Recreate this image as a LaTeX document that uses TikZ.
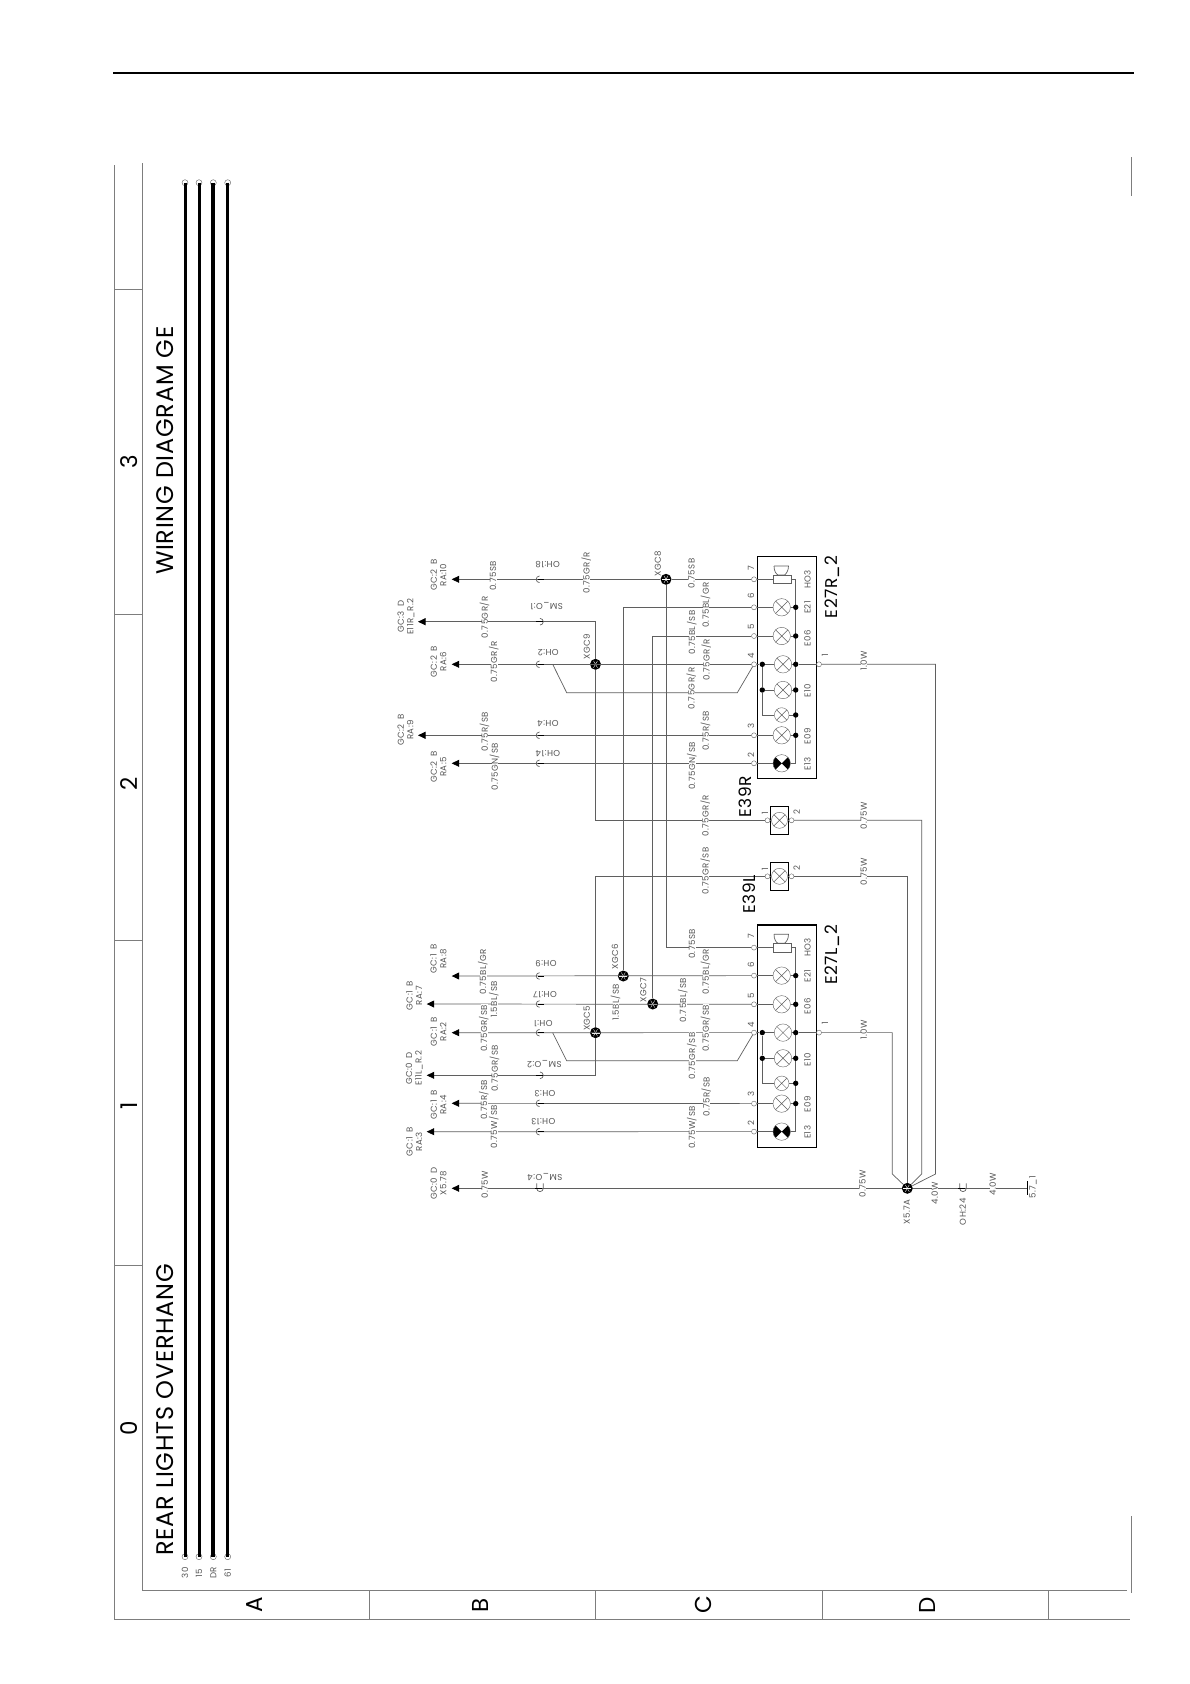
\documentclass[tikz,border=0pt]{standalone}
\usepackage{fontspec}
\usepackage{xcolor}
\setmainfont{Poppins}
\newfontfamily\wirefont[LetterSpace=5,WordSpace=1.6]{Poppins}
\newfontfamily\titlefont[LetterSpace=3]{Poppins}
\usetikzlibrary{arrows.meta}
\definecolor{wiregray}{RGB}{95, 95, 95}
\definecolor{framegray}{RGB}{125, 125, 125}
\definecolor{textgray}{RGB}{85, 85, 85}
\tikzset{
  wire/.style={draw=wiregray, line width=0.7pt},
  tipped/.style={-{Triangle[length=7.5pt,width=7pt,color=black]}},
  busbar/.style={draw=black, line width=#1},
  framerule/.style={draw=framegray, line width=0.9pt},
  wirelabel/.style={rotate=90, fill=white, inner xsep=1pt, inner ysep=0pt, text height=6.2pt, text depth=0.4pt, text=textgray, font=\wirefont\fontsize{8.6}{9}\selectfont},
  smalllabel/.style={rotate=90, inner sep=0pt, text=textgray, font=\wirefont\fontsize{8.6}{9.6}\selectfont, align=center},
  marklabel/.style={rotate=180, inner sep=0pt, text=textgray, font=\wirefont\fontsize{8.6}{9}\selectfont},
  biglabel/.style={rotate=90, inner sep=0pt, font=\titlefont\fontsize{17}{18}\selectfont},
  titlelabel/.style={rotate=90, inner sep=0pt, anchor=west, font=\titlefont\fontsize{24}{25}\selectfont},
  pinmark/.style={circle, draw=wiregray, fill=white, minimum size=5pt, inner sep=0pt},
  dotmark/.style={circle, fill=black, minimum size=5.4pt, inner sep=0pt},
  splice/.style={circle, fill=black, minimum size=11pt, inner sep=0pt, path picture={
    \foreach \a in {0,60,120} \draw[white, line width=0.35pt] (path picture bounding box.center) ++(\a:4pt) -- ++(\a+180:8pt);}},
  lamp/.style={circle, draw=wiregray, fill=white, minimum size=#1, inner sep=0pt, path picture={
    \draw[wiregray, line width=0.5pt] (path picture bounding box.south west) -- (path picture bounding box.north east)
      (path picture bounding box.north west) -- (path picture bounding box.south east);}},
  lamp/.default=17.4pt,
  lampblack/.style={lamp, path picture={
    \fill[black] (path picture bounding box.center) -- +(135:15pt) -- +(225:15pt) -- cycle
      (path picture bounding box.center) -- +(45:15pt) -- +(-45:15pt) -- cycle;}},
  ohmark/.pic={\draw[wire] (0pt,3.3pt) arc[start angle=90, end angle=270, radius=3.3pt];
    \draw[black, line width=1pt] (-2pt,0pt) -- (4.5pt,0pt);},
  smmark/.pic={\draw[wire] (0pt,3.3pt) arc[start angle=90, end angle=-90, radius=3.3pt];
    \draw[black, line width=1pt] (-4pt,0pt) -- (3pt,0pt);},
  umark/.pic={\draw[wire] (-3.3pt,5pt) -- (-3.3pt,0pt) arc[start angle=180, end angle=360, radius=3.3pt] -- (3.3pt,5pt);
    \draw[black, line width=1pt] (-5pt,0pt) -- (1.5pt,0pt);},
}
% lamp box, drawn at the height of the right one and moved by #2
\newcommand{\rearbox}[2]{
\begin{scope}[shift={(0,#2)}, name prefix=#1-]
\draw[black, line width=1.2pt] (757.3,556.7) rectangle (816.7,778.8);
\foreach \n/\y in {7/579.3, 6/607.3, 5/636, 4/664.3, 3/735.3, 2/763.3}
  \node[pinmark] (p\n) at (754,\y) {};
\node[pinmark] (p1) at (819,664.3) {};
\foreach \n/\y in {7/568, 6/596, 5/627, 4/656, 3/726, 2/755}
  \node[smalllabel] (n\n) at (751,\y) {\n};
\node[smalllabel] (n1) at (825,655) {1};
\node[draw=wiregray, fill=white, minimum width=17.4pt, minimum height=8.7pt, inner sep=0pt] (hornbase) at (782,579.3) {};
\draw[wire] (774,566) -- (788.5,566) .. controls (788.5,571) and (786,574) .. (784.5,575) -- (778,575) .. controls (776,574) and (774,571) .. (774,566);
\foreach \n/\x/\y in {e21/781.7/607.3, e06/781.7/636, e4/783/664.3, e10/783/690, e09/781.7/735.3}
  \node[lamp] (\n) at (\x,\y) {};
\node[lamp=14.6pt] (e08) at (781.7,715) {};
\node[lampblack] (e13) at (781.7,763.3) {};
\coordinate (bustop) at (795.7,579.3);
\coordinate (busend) at (795.7,763.3);
\draw[wire] (p7) -- (hornbase);
\draw[wire] (hornbase) -- (bustop) -- (busend) -- (e13) -- (p2);
\foreach \n/\y in {e21/607.3, e06/636, e4/664.3, e10/690, e08/715, e09/735.3} {
  \node[dotmark] (b\n) at (795.7,\y) {};
  \draw[wire] (\n) -- (b\n);
}
\node[dotmark] (la) at (762.3,664.3) {};
\node[dotmark] (lb) at (762.3,690) {};
\draw[wire] (p6) -- (e21);
\draw[wire] (p5) -- (e06);
\draw[wire] (p4) -- (la) -- (e4);
\draw[wire] (be4) -- (p1);
\draw[wire] (la) -- (lb) -- (e10);
\draw[wire] (lb) |- (e08);
\draw[wire] (p3) -- (e09);
\foreach \t/\y in {HO3/579.3, E21/607.5, E06/638, E10/691, E09/736, E13/764}
  \node[smalllabel] (t\t) at (807.5,\y) {\t};
\end{scope}
}
% small side lamp
\newcommand{\sidelamp}[2]{
\begin{scope}[shift={(0,#2)}, name prefix=#1-]
\draw[black, line width=1pt] (770.7,806) rectangle (788.3,834.4);
\node[lamp=16pt] (lamp) at (779.5,820.3) {};
\node[pinmark] (p1) at (767.5,820.3) {};
\node[pinmark] (p2) at (791.5,820.3) {};
\node[smalllabel] (n1) at (765,813) {1};
\node[smalllabel] (n2) at (796.7,812) {2};
\end{scope}
}
\begin{document}
\begin{tikzpicture}[x=1pt, y=-1pt]
\useasboundingbox (0,0) rectangle (1190,1684);
\fill[white] (0,0) rectangle (1190,1684);
% sheet frame
\draw[black, line width=2pt] (113,73) -- (1134,73);
\draw[framerule] (114.5,165) -- (114.5,1619) -- (1130,1619);
\draw[framerule] (142.5,163) -- (142.5,1590) -- (1127,1590);
\draw[framerule] (1131,157) -- (1131,196);
\draw[framerule] (1131,1516) -- (1131,1593);
\foreach \y in {289.5,614,940,1265}
  \draw[framerule] (114.5,\y) -- (142.5,\y);
\foreach \x in {369.5,595,822.7,1048}
  \draw[framerule] (\x,1590) -- (\x,1619);
\foreach \t/\y [count=\i] in {3/462, 2/784, 1/1106, 0/1428}
  \node[rotate=90, inner sep=0pt, font=\fontsize{23}{25}\selectfont] (col\i) at (129,\y) {\t};
\foreach \t/\x [count=\i] in {A/255, B/480, C/703, D/927}
  \node[rotate=90, inner sep=0pt, font=\fontsize{23}{25}\selectfont] (row\i) at (\x,1605) {\t};
\node[titlelabel] (titlea) at (165.5,1556) {REAR LIGHTS OVERHANG};
\node[titlelabel] (titleb) at (165.5,575) {WIRING DIAGRAM GE};
% supply bars
\foreach \t/\x/\w [count=\i] in {30/185/3pt, 15/199/3pt, DR/213.3/3.8pt, 61/227.7/3pt} {
  \node[pinmark, minimum size=6pt] (bartop\i) at (\x,182.7) {};
  \node[pinmark, minimum size=6pt] (barend\i) at (\x,1556.7) {};
  \draw[busbar=\w] (bartop\i.center) -- (barend\i.center);
  \node[smalllabel] (bartext\i) at (\x,1573) {\t};
}
% lamp boxes
\rearbox{R}{0}
\rearbox{L}{368.3}
\sidelamp{SR}{0}
\sidelamp{SL}{56}
% splices
\node[splice] (XGC8) at (666,579.3) {};
\node[splice] (XGC9) at (595.5,664.3) {};
\node[splice] (XGC6) at (623.3,976) {};
\node[splice] (XGC7) at (652.7,1004) {};
\node[splice] (XGC5) at (595.5,1032.7) {};
\node[splice] (X57A) at (907.3,1188.3) {};
% free ends
\foreach \n/\x/\y in {ta/451.7/579.3, tb/418/621.7, tc/451.7/664.3, td/418/735.3, te/451.7/763.3,
    tf/451.7/976, tg/426.7/1004, th/451.7/1032.7, ti/426.7/1075.3, tj/451.7/1103.3, tk/426.7/1131.7, tl/451.7/1188.3,
    bra/892.3/1174, brb/921.7/1174, brc/935.5/1174, gnd/1027/1188.3,
    hka/552.7/664.3, hkb/566.7/692.7, hkc/737.3/692.7, hkd/552.7/1032.7, hke/566.7/1060.7, hkf/737.3/1060.7}
  \coordinate (\n) at (\x,\y);
% wires
\draw[wire] (R-p7) -- (XGC8);
\draw[wire, tipped] (XGC8) -- (ta);
\draw[wire] (XGC8) |- (L-p7);
\draw[wire, tipped] (XGC9) |- (tb);
\draw[wire, tipped] (R-p4) -- (tc);
\draw[wire] (XGC9) |- (SR-p1);
\draw[wire] (R-p6) -| (XGC6);
\draw[wire] (R-p5) -| (XGC7);
\draw[wire, tipped] (R-p3) -- (td);
\draw[wire, tipped] (R-p2) -- (te);
\draw[wire] (hka) -- (hkb) -- (hkc) -- (R-p4);
\draw[wire, tipped] (L-p6) -- (tf);
\draw[wire, tipped] (L-p5) -- (tg);
\draw[wire, tipped] (L-p4) -- (th);
\draw[wire, tipped] (XGC5) |- (ti);
\draw[wire] (XGC5) |- (SL-p1);
\draw[wire, tipped] (L-p3) -- (tj);
\draw[wire, tipped] (L-p2) -- (tk);
\draw[wire] (hkd) -- (hke) -- (hkf) -- (L-p4);
\draw[wire, tipped] (X57A) -- (tl);
\draw[wire] (L-p1) -| (bra) -- (X57A);
\draw[wire] (SL-p2) -| (X57A);
\draw[wire] (SR-p2) -| (brb) -- (X57A);
\draw[wire] (R-p1) -| (brc) -- (X57A);
\draw[wire] (X57A) -- (gnd);
\draw[black, line width=1pt] (gnd) +(0,-7) -- +(0,7);
\draw[wire] (SR-p1) -- (SR-lamp) -- (SR-p2);
\draw[wire] (SL-p1) -- (SL-lamp) -- (SL-p2);
% connector marks
\foreach \y in {579.3,664.3,735.3,763.3,976,1004,1032.7,1103.3,1131.7}
  \pic at (539.5,\y) {ohmark};
\foreach \y in {621.7,1075.3}
  \pic at (540,\y) {smmark};
\pic at (540,1188.3) {umark};
\pic at (963,1188.3) {umark};
% labels on the wires
\foreach \x/\y/\t [count=\i] in {
  493.3/576/{0.75SB}, 586.7/572.7/{0.75GR/R}, 691.7/573.3/{0.75SB}, 485/617.3/{0.75GR/R},
  706/605/{0.75BL/GR}, 692.3/632.7/{0.75BL/SB}, 494.3/661.7/{0.75GR/R}, 706.7/660/{0.75GR/R},
  691.7/688.3/{0.75GR/R}, 864/660.7/{1.0W}, 485/731.7/{0.75R/SB}, 706/731/{0.75R/SB},
  495/766.7/{0.75GN/SB}, 692.3/766/{0.75GN/SB}, 705.7/816/{0.75GR/R}, 864/816/{0.75W},
  705.7/871/{0.75GR/SB}, 864/871.7/{0.75W}, 692.3/944/{0.75SB}, 483.3/971.7/{0.75BL/GR},
  706/971.7/{0.75BL/GR}, 494.3/999.3/{1.5BL/SB}, 616/1002.3/{1.5BL/SB}, 683.3/1000/{0.75BL/SB},
  484.3/1028.3/{0.75GR/SB}, 706/1028.3/{0.75GR/SB}, 692.3/1056/{0.75GR/SB}, 864/1030/{1.0W},
  495/1068.3/{0.75GR/SB}, 484.3/1100/{0.75R/SB}, 706.7/1096.7/{0.75R/SB}, 494.3/1126.7/{0.75W/SB},
  692.3/1127.3/{0.75W/SB}, 485/1185/{0.75W}, 862.7/1184/{0.75W}, 935/1193/{4.0W}, 993/1184/{4.0W}}
  \node[wirelabel] (wl\i) at (\x,\y) {\t};
% labels beside the wires
\foreach \x/\y/\t [count=\i] in {
  438.5/575/{GC:2 B\\RA:10}, 406/616.7/{GC:3 D\\E11R\_R.2}, 438.5/661.7/{GC:2 B\\RA:6},
  405.5/730/{GC:2 B\\RA:9}, 438.5/767/{GC:2 B\\RA:5}, 438.5/959/{GC:1 B\\RA:8},
  414.3/995.7/{GC:1 B\\RA:7}, 438.5/1031.7/{GC:1 B\\RA:2}, 414.3/1068.3/{GC:0 D\\E11L\_R.2},
  438.5/1105/{GC:1 B\\RA:4}, 414.3/1141.7/{GC:1 B\\RA:3}, 438.5/1183.3/{GC:0 D\\X5.78},
  657.7/563.3/{XGC8}, 586.7/646.7/{XGC9}, 615/956.7/{XGC6}, 643.3/990/{XGC7}, 586.7/1018.3/{XGC5},
  906.7/1211.7/{X5.7A}, 962.7/1211.7/{OH:24}, 1033/1187/{5.7\_1}}
  \node[smalllabel] (sl\i) at (\x,\y) {\t};
\foreach \x/\y/\t [count=\i] in {
  547.7/564.3/{OH:18}, 546.7/605.7/{SM\_O:1}, 548.3/652.7/{OH:2}, 548/723.3/{OH:4}, 548/753.3/{OH:14},
  546/964/{OH:9}, 545/994.3/{OH:17}, 543.3/1023.3/{OH:1}, 544.3/1064.3/{SM\_O:2}, 545/1093.3/{OH:3},
  543.3/1121.7/{OH:13}, 545/1176.7/{SM\_O:4}}
  \node[marklabel] (ml\i) at (\x,\y) {\t};
\node[biglabel] (E27Rname) at (832.7,586.7) {E27R\_2};
\node[biglabel] (E27Lname) at (832.7,955) {E27L\_2};
\node[biglabel] (E39Rname) at (745.7,796.7) {E39R};
\node[biglabel] (E39Lname) at (749,894.3) {E39L};
\end{tikzpicture}
\end{document}
